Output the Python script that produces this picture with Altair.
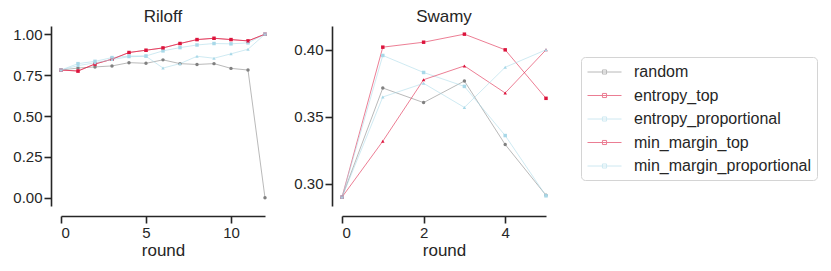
import altair as alt
import pandas as pd

series = ["random", "entropy_top", "entropy_proportional", "min_margin_top", "min_margin_proportional"]
colors = ["#808080", "#dc143c", "#a8d8e8", "#dc143c", "#a8d8e8"]
shapes = ["circle", "square", "square", "triangle-up", "triangle-up"]

riloff_rounds = list(range(13))
riloff_random = [0.781, 0.793, 0.800, 0.806, 0.826, 0.822, 0.843, 0.820, 0.815, 0.820, 0.791, 0.781, 0.000]
riloff_entropy_top = [0.781, 0.775, 0.818, 0.847, 0.888, 0.902, 0.916, 0.943, 0.967, 0.975, 0.967, 0.959, 1.000]
riloff_entropy_prop = [0.781, 0.820, 0.834, 0.857, 0.866, 0.867, 0.898, 0.918, 0.934, 0.943, 0.941, 0.947, 1.000]
riloff_min_margin_top = [0.781, 0.775, 0.818, 0.847, 0.888, 0.902, 0.916, 0.943, 0.967, 0.975, 0.967, 0.959, 1.000]
riloff_min_margin_prop = [0.781, 0.808, 0.825, 0.845, 0.862, 0.865, 0.793, 0.820, 0.865, 0.853, 0.880, 0.908, 1.000]

swamy_rounds = list(range(6))
swamy_random = [0.290, 0.3715, 0.3606, 0.3767, 0.3293, 0.2914]
swamy_entropy_top = [0.290, 0.402, 0.4057, 0.4117, 0.400, 0.3638]
swamy_entropy_prop = [0.290, 0.3958, 0.3831, 0.3727, 0.336, 0.291]
swamy_min_margin_top = [0.290, 0.3318, 0.3777, 0.388, 0.3678, 0.400]
swamy_min_margin_prop = [0.290, 0.3648, 0.375, 0.357, 0.387, 0.400]


def frame(rounds, lists):
    rows = []
    for name, vals in zip(series, lists):
        for r, v in zip(rounds, vals):
            rows.append({"round": r, "value": v, "strategy": name})
    return pd.DataFrame(rows)


riloff_df = frame(riloff_rounds, [riloff_random, riloff_entropy_top, riloff_entropy_prop,
                                  riloff_min_margin_top, riloff_min_margin_prop])
swamy_df = frame(swamy_rounds, [swamy_random, swamy_entropy_top, swamy_entropy_prop,
                                swamy_min_margin_top, swamy_min_margin_prop])

FONT = "Liberation Sans"
TXT = "#262626"

legend_symbol = "M-1,0H3M0.76,-0.24H1.24V0.24H0.76Z"


def panel(df, title, xdom, xticks, ydom, yticks, show_legend):
    x = alt.X("round:Q", title="round",
              scale=alt.Scale(domain=xdom, nice=False, zero=False),
              axis=alt.Axis(values=xticks, format="d"))
    y = alt.Y("value:Q", title=None,
              scale=alt.Scale(domain=ydom, nice=False, zero=False),
              axis=alt.Axis(values=yticks, format=".2f"))
    if show_legend:
        leg = alt.Legend(
            title=None, orient="none", legendX=520, legendY=31,
            symbolType=legend_symbol, symbolSize=289, symbolStrokeWidth=1,
            labelFontSize=16, labelFont=FONT, labelColor=TXT, labelOffset=29,
            labelLimit=400, rowPadding=6.5, padding=6, strokeColor="#d4d4d4",
            cornerRadius=4, fillColor="white",
        )
        color = alt.Color("strategy:N", scale=alt.Scale(domain=series, range=colors), legend=leg)
    else:
        color = alt.Color("strategy:N", scale=alt.Scale(domain=series, range=colors), legend=None)
    lines = alt.Chart(df).mark_line(strokeWidth=1, opacity=0.55).encode(
        x=x, y=y, color=color, order="round:Q")
    layers = [lines]
    for name, c, s in zip(series, colors, shapes):
        layers.append(
            alt.Chart(df).transform_filter(alt.datum.strategy == name)
            .mark_point(filled=True, size=12, opacity=1, color=c, shape=s)
            .encode(x=x, y=y)
        )
    return alt.layer(*layers).properties(
        width=204, height=180,
        title=alt.TitleParams(title, fontSize=17, font=FONT, fontWeight="normal", color=TXT, offset=0),
    )


left = panel(riloff_df, "Riloff", [0, 12], [0, 5, 10], [-0.05, 1.05], [0.0, 0.25, 0.5, 0.75, 1.0], True)
right = panel(swamy_df, "Swamy", [0, 5], [0, 2, 4], [0.2834, 0.4178], [0.30, 0.35, 0.40], False)

chart = alt.hconcat(left, right, spacing=26).resolve_scale(
    x="independent", y="independent"
).properties(
    padding={"left": 4, "top": 0, "right": 0, "bottom": 0}
).configure_view(stroke=None).configure_axis(
    grid=False, domainColor=TXT, domainWidth=1.6, tickColor=TXT, tickWidth=1.6,
    tickSize=7, offset=10, labelFont=FONT, labelFontSize=15, labelColor=TXT,
    labelPadding=2, titleFont=FONT, titleFontSize=17, titleFontWeight="normal",
    titleColor=TXT, titlePadding=2,
)

chart.save("out.html", embed_options={"renderer": "svg", "actions": False})
